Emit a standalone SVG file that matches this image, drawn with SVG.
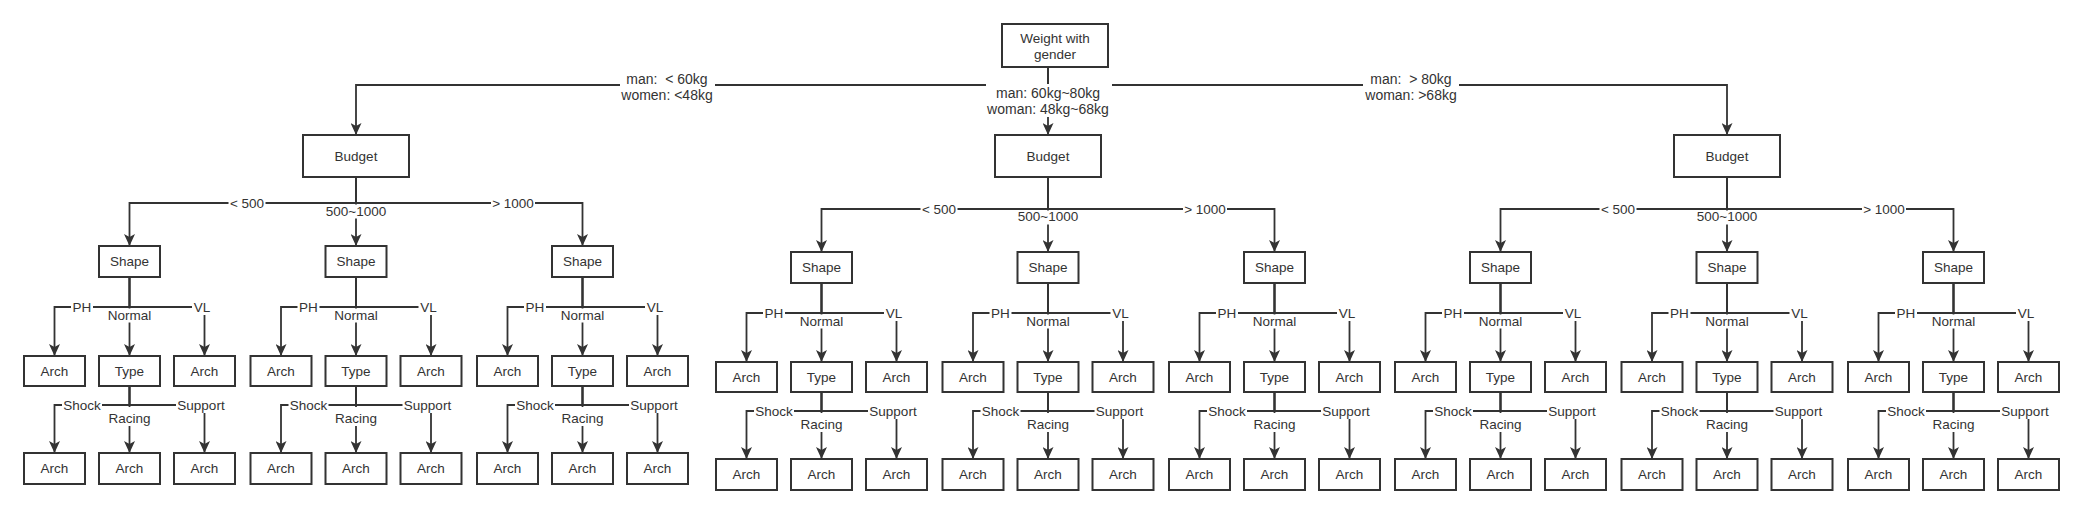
<svg xmlns="http://www.w3.org/2000/svg" width="2085" height="514" viewBox="0 0 2085 514">
<style>
.n rect{fill:#fff;stroke:#333;stroke-width:2}
text{font-family:"Liberation Sans",Arial,sans-serif;font-size:13.5px;fill:#333;text-anchor:middle;dominant-baseline:central}
.top text{font-size:14px}
#connectors path{fill:none;stroke:#333;stroke-width:1.8;marker-end:url(#arr)}
.lb rect{fill:#fff}
</style>
<defs>
<marker id="arr" viewBox="0 0 12 11" refX="12" refY="5.5" markerWidth="12" markerHeight="11" markerUnits="userSpaceOnUse" orient="auto"><path d="M0,0 L12,5.5 L0,11 L3,5.5 Z" fill="#333"/></marker>
</defs>
<rect width="2085" height="514" fill="#fff"/>
<g id="connectors">
<path d="M1048 67V85H356V135"/><path d="M1048 67V135"/><path d="M1048 67V85H1727V135"/>
<path d="M356 177V203H129.5V246"/><path d="M356 177V246"/><path d="M356 177V203H582.5V246"/>
<path d="M1048 177V209H821.5V252"/><path d="M1048 177V252"/><path d="M1048 177V209H1274.5V252"/>
<path d="M1727 177V209H1500.5V252"/><path d="M1727 177V252"/><path d="M1727 177V209H1953.5V252"/>
<path d="M129.5 277V307H54.5V356"/><path d="M129.5 277V356"/><path d="M129.5 277V307H204.5V356"/>
<path d="M129.5 386V405H54.5V453"/><path d="M129.5 386V453"/><path d="M129.5 386V405H204.5V453"/>
<path d="M356 277V307H281V356"/><path d="M356 277V356"/><path d="M356 277V307H431V356"/>
<path d="M356 386V405H281V453"/><path d="M356 386V453"/><path d="M356 386V405H431V453"/>
<path d="M582.5 277V307H507.5V356"/><path d="M582.5 277V356"/><path d="M582.5 277V307H657.5V356"/>
<path d="M582.5 386V405H507.5V453"/><path d="M582.5 386V453"/><path d="M582.5 386V405H657.5V453"/>
<path d="M821.5 283V313H746.5V362"/><path d="M821.5 283V362"/><path d="M821.5 283V313H896.5V362"/>
<path d="M821.5 392V411H746.5V459"/><path d="M821.5 392V459"/><path d="M821.5 392V411H896.5V459"/>
<path d="M1048 283V313H973V362"/><path d="M1048 283V362"/><path d="M1048 283V313H1123V362"/>
<path d="M1048 392V411H973V459"/><path d="M1048 392V459"/><path d="M1048 392V411H1123V459"/>
<path d="M1274.5 283V313H1199.5V362"/><path d="M1274.5 283V362"/><path d="M1274.5 283V313H1349.5V362"/>
<path d="M1274.5 392V411H1199.5V459"/><path d="M1274.5 392V459"/><path d="M1274.5 392V411H1349.5V459"/>
<path d="M1500.5 283V313H1425.5V362"/><path d="M1500.5 283V362"/><path d="M1500.5 283V313H1575.5V362"/>
<path d="M1500.5 392V411H1425.5V459"/><path d="M1500.5 392V459"/><path d="M1500.5 392V411H1575.5V459"/>
<path d="M1727 283V313H1652V362"/><path d="M1727 283V362"/><path d="M1727 283V313H1802V362"/>
<path d="M1727 392V411H1652V459"/><path d="M1727 392V459"/><path d="M1727 392V411H1802V459"/>
<path d="M1953.5 283V313H1878.5V362"/><path d="M1953.5 283V362"/><path d="M1953.5 283V313H2028.5V362"/>
<path d="M1953.5 392V411H1878.5V459"/><path d="M1953.5 392V459"/><path d="M1953.5 392V411H2028.5V459"/>
</g>
<g id="edge-labels" class="lb">
<g class="top">
<rect x="620" y="70" width="95" height="33"/><text x="667" y="79" xml:space="preserve">man:  &lt; 60kg</text><text x="667" y="95">women: &lt;48kg</text>
<rect x="986" y="84" width="126" height="33"/><text x="1048" y="93">man: 60kg~80kg</text><text x="1048" y="109">woman: 48kg~68kg</text>
<rect x="1363" y="70" width="96" height="33"/><text x="1411" y="79" xml:space="preserve">man:  &gt; 80kg</text><text x="1411" y="95">woman: &gt;68kg</text>
</g>
<rect x="228.5" y="195" width="37" height="16"/><text x="247" y="203">&lt; 500</text>
<rect x="491" y="195" width="44" height="16"/><text x="513" y="203">&gt; 1000</text>
<rect x="325" y="204.5" width="62" height="14"/><text x="356" y="211">500~1000</text>
<rect x="920.5" y="201" width="37" height="16"/><text x="939" y="209">&lt; 500</text>
<rect x="1183" y="201" width="44" height="16"/><text x="1205" y="209">&gt; 1000</text>
<rect x="1017" y="210.5" width="62" height="14"/><text x="1048" y="216">500~1000</text>
<rect x="1599.5" y="201" width="37" height="16"/><text x="1618" y="209">&lt; 500</text>
<rect x="1862" y="201" width="44" height="16"/><text x="1884" y="209">&gt; 1000</text>
<rect x="1696" y="210.5" width="62" height="14"/><text x="1727" y="216">500~1000</text>

<rect x="71" y="299" width="22" height="16"/><text x="82" y="307">PH</text>
<rect x="192" y="299" width="20" height="16"/><text x="202" y="307">VL</text>
<rect x="106.5" y="308.5" width="46" height="14"/><text x="129.5" y="315.5">Normal</text>
<rect x="62" y="397" width="40" height="16"/><text x="82" y="405">Shock</text>
<rect x="176" y="397" width="50" height="16"/><text x="201" y="405">Support</text>
<rect x="107.5" y="407" width="44" height="19"/><text x="129.5" y="418">Racing</text>

<rect x="297.5" y="299" width="22" height="16"/><text x="308.5" y="307">PH</text>
<rect x="418.5" y="299" width="20" height="16"/><text x="428.5" y="307">VL</text>
<rect x="333" y="308.5" width="46" height="14"/><text x="356" y="315.5">Normal</text>
<rect x="288.5" y="397" width="40" height="16"/><text x="308.5" y="405">Shock</text>
<rect x="402.5" y="397" width="50" height="16"/><text x="427.5" y="405">Support</text>
<rect x="334" y="407" width="44" height="19"/><text x="356" y="418">Racing</text>

<rect x="524" y="299" width="22" height="16"/><text x="535" y="307">PH</text>
<rect x="645" y="299" width="20" height="16"/><text x="655" y="307">VL</text>
<rect x="559.5" y="308.5" width="46" height="14"/><text x="582.5" y="315.5">Normal</text>
<rect x="515" y="397" width="40" height="16"/><text x="535" y="405">Shock</text>
<rect x="629" y="397" width="50" height="16"/><text x="654" y="405">Support</text>
<rect x="560.5" y="407" width="44" height="19"/><text x="582.5" y="418">Racing</text>

<rect x="763" y="305" width="22" height="16"/><text x="774" y="313">PH</text>
<rect x="884" y="305" width="20" height="16"/><text x="894" y="313">VL</text>
<rect x="798.5" y="314.5" width="46" height="14"/><text x="821.5" y="321.5">Normal</text>
<rect x="754" y="403" width="40" height="16"/><text x="774" y="411">Shock</text>
<rect x="868" y="403" width="50" height="16"/><text x="893" y="411">Support</text>
<rect x="799.5" y="413" width="44" height="19"/><text x="821.5" y="424">Racing</text>

<rect x="989.5" y="305" width="22" height="16"/><text x="1000.5" y="313">PH</text>
<rect x="1110.5" y="305" width="20" height="16"/><text x="1120.5" y="313">VL</text>
<rect x="1025" y="314.5" width="46" height="14"/><text x="1048" y="321.5">Normal</text>
<rect x="980.5" y="403" width="40" height="16"/><text x="1000.5" y="411">Shock</text>
<rect x="1094.5" y="403" width="50" height="16"/><text x="1119.5" y="411">Support</text>
<rect x="1026" y="413" width="44" height="19"/><text x="1048" y="424">Racing</text>

<rect x="1216" y="305" width="22" height="16"/><text x="1227" y="313">PH</text>
<rect x="1337" y="305" width="20" height="16"/><text x="1347" y="313">VL</text>
<rect x="1251.5" y="314.5" width="46" height="14"/><text x="1274.5" y="321.5">Normal</text>
<rect x="1207" y="403" width="40" height="16"/><text x="1227" y="411">Shock</text>
<rect x="1321" y="403" width="50" height="16"/><text x="1346" y="411">Support</text>
<rect x="1252.5" y="413" width="44" height="19"/><text x="1274.5" y="424">Racing</text>

<rect x="1442" y="305" width="22" height="16"/><text x="1453" y="313">PH</text>
<rect x="1563" y="305" width="20" height="16"/><text x="1573" y="313">VL</text>
<rect x="1477.5" y="314.5" width="46" height="14"/><text x="1500.5" y="321.5">Normal</text>
<rect x="1433" y="403" width="40" height="16"/><text x="1453" y="411">Shock</text>
<rect x="1547" y="403" width="50" height="16"/><text x="1572" y="411">Support</text>
<rect x="1478.5" y="413" width="44" height="19"/><text x="1500.5" y="424">Racing</text>

<rect x="1668.5" y="305" width="22" height="16"/><text x="1679.5" y="313">PH</text>
<rect x="1789.5" y="305" width="20" height="16"/><text x="1799.5" y="313">VL</text>
<rect x="1704" y="314.5" width="46" height="14"/><text x="1727" y="321.5">Normal</text>
<rect x="1659.5" y="403" width="40" height="16"/><text x="1679.5" y="411">Shock</text>
<rect x="1773.5" y="403" width="50" height="16"/><text x="1798.5" y="411">Support</text>
<rect x="1705" y="413" width="44" height="19"/><text x="1727" y="424">Racing</text>

<rect x="1895" y="305" width="22" height="16"/><text x="1906" y="313">PH</text>
<rect x="2016" y="305" width="20" height="16"/><text x="2026" y="313">VL</text>
<rect x="1930.5" y="314.5" width="46" height="14"/><text x="1953.5" y="321.5">Normal</text>
<rect x="1886" y="403" width="40" height="16"/><text x="1906" y="411">Shock</text>
<rect x="2000" y="403" width="50" height="16"/><text x="2025" y="411">Support</text>
<rect x="1931.5" y="413" width="44" height="19"/><text x="1953.5" y="424">Racing</text>
</g>

<g id="root" class="n"><rect x="1002" y="24" width="106" height="43"/><text x="1055" y="38">Weight with</text><text x="1055" y="54">gender</text></g>

<g id="budget-L" class="n"><rect x="303" y="135" width="106" height="42"/><text x="356" y="156">Budget</text></g>
<g id="budget-M" class="n"><rect x="995" y="135" width="106" height="42"/><text x="1048" y="156">Budget</text></g>
<g id="budget-R" class="n"><rect x="1674" y="135" width="106" height="42"/><text x="1727" y="156">Budget</text></g>

<g id="shape-L1" class="n"><rect x="99" y="246" width="61" height="31"/><text x="129.5" y="261.5">Shape</text></g>
<g id="arch-L1-ph" class="n"><rect x="24" y="356" width="61" height="30"/><text x="54.5" y="371">Arch</text></g>
<g id="type-L1" class="n"><rect x="99" y="356" width="61" height="30"/><text x="129.5" y="371">Type</text></g>
<g id="arch-L1-vl" class="n"><rect x="174" y="356" width="61" height="30"/><text x="204.5" y="371">Arch</text></g>
<g id="arch-L1-shock" class="n"><rect x="24" y="453" width="61" height="31"/><text x="54.5" y="468.5">Arch</text></g>
<g id="arch-L1-racing" class="n"><rect x="99" y="453" width="61" height="31"/><text x="129.5" y="468.5">Arch</text></g>
<g id="arch-L1-support" class="n"><rect x="174" y="453" width="61" height="31"/><text x="204.5" y="468.5">Arch</text></g>

<g id="shape-L2" class="n"><rect x="325.5" y="246" width="61" height="31"/><text x="356" y="261.5">Shape</text></g>
<g id="arch-L2-ph" class="n"><rect x="250.5" y="356" width="61" height="30"/><text x="281" y="371">Arch</text></g>
<g id="type-L2" class="n"><rect x="325.5" y="356" width="61" height="30"/><text x="356" y="371">Type</text></g>
<g id="arch-L2-vl" class="n"><rect x="400.5" y="356" width="61" height="30"/><text x="431" y="371">Arch</text></g>
<g id="arch-L2-shock" class="n"><rect x="250.5" y="453" width="61" height="31"/><text x="281" y="468.5">Arch</text></g>
<g id="arch-L2-racing" class="n"><rect x="325.5" y="453" width="61" height="31"/><text x="356" y="468.5">Arch</text></g>
<g id="arch-L2-support" class="n"><rect x="400.5" y="453" width="61" height="31"/><text x="431" y="468.5">Arch</text></g>

<g id="shape-L3" class="n"><rect x="552" y="246" width="61" height="31"/><text x="582.5" y="261.5">Shape</text></g>
<g id="arch-L3-ph" class="n"><rect x="477" y="356" width="61" height="30"/><text x="507.5" y="371">Arch</text></g>
<g id="type-L3" class="n"><rect x="552" y="356" width="61" height="30"/><text x="582.5" y="371">Type</text></g>
<g id="arch-L3-vl" class="n"><rect x="627" y="356" width="61" height="30"/><text x="657.5" y="371">Arch</text></g>
<g id="arch-L3-shock" class="n"><rect x="477" y="453" width="61" height="31"/><text x="507.5" y="468.5">Arch</text></g>
<g id="arch-L3-racing" class="n"><rect x="552" y="453" width="61" height="31"/><text x="582.5" y="468.5">Arch</text></g>
<g id="arch-L3-support" class="n"><rect x="627" y="453" width="61" height="31"/><text x="657.5" y="468.5">Arch</text></g>

<g id="shape-M1" class="n"><rect x="791" y="252" width="61" height="31"/><text x="821.5" y="267.5">Shape</text></g>
<g id="arch-M1-ph" class="n"><rect x="716" y="362" width="61" height="30"/><text x="746.5" y="377">Arch</text></g>
<g id="type-M1" class="n"><rect x="791" y="362" width="61" height="30"/><text x="821.5" y="377">Type</text></g>
<g id="arch-M1-vl" class="n"><rect x="866" y="362" width="61" height="30"/><text x="896.5" y="377">Arch</text></g>
<g id="arch-M1-shock" class="n"><rect x="716" y="459" width="61" height="31"/><text x="746.5" y="474.5">Arch</text></g>
<g id="arch-M1-racing" class="n"><rect x="791" y="459" width="61" height="31"/><text x="821.5" y="474.5">Arch</text></g>
<g id="arch-M1-support" class="n"><rect x="866" y="459" width="61" height="31"/><text x="896.5" y="474.5">Arch</text></g>

<g id="shape-M2" class="n"><rect x="1017.5" y="252" width="61" height="31"/><text x="1048" y="267.5">Shape</text></g>
<g id="arch-M2-ph" class="n"><rect x="942.5" y="362" width="61" height="30"/><text x="973" y="377">Arch</text></g>
<g id="type-M2" class="n"><rect x="1017.5" y="362" width="61" height="30"/><text x="1048" y="377">Type</text></g>
<g id="arch-M2-vl" class="n"><rect x="1092.5" y="362" width="61" height="30"/><text x="1123" y="377">Arch</text></g>
<g id="arch-M2-shock" class="n"><rect x="942.5" y="459" width="61" height="31"/><text x="973" y="474.5">Arch</text></g>
<g id="arch-M2-racing" class="n"><rect x="1017.5" y="459" width="61" height="31"/><text x="1048" y="474.5">Arch</text></g>
<g id="arch-M2-support" class="n"><rect x="1092.5" y="459" width="61" height="31"/><text x="1123" y="474.5">Arch</text></g>

<g id="shape-M3" class="n"><rect x="1244" y="252" width="61" height="31"/><text x="1274.5" y="267.5">Shape</text></g>
<g id="arch-M3-ph" class="n"><rect x="1169" y="362" width="61" height="30"/><text x="1199.5" y="377">Arch</text></g>
<g id="type-M3" class="n"><rect x="1244" y="362" width="61" height="30"/><text x="1274.5" y="377">Type</text></g>
<g id="arch-M3-vl" class="n"><rect x="1319" y="362" width="61" height="30"/><text x="1349.5" y="377">Arch</text></g>
<g id="arch-M3-shock" class="n"><rect x="1169" y="459" width="61" height="31"/><text x="1199.5" y="474.5">Arch</text></g>
<g id="arch-M3-racing" class="n"><rect x="1244" y="459" width="61" height="31"/><text x="1274.5" y="474.5">Arch</text></g>
<g id="arch-M3-support" class="n"><rect x="1319" y="459" width="61" height="31"/><text x="1349.5" y="474.5">Arch</text></g>

<g id="shape-R1" class="n"><rect x="1470" y="252" width="61" height="31"/><text x="1500.5" y="267.5">Shape</text></g>
<g id="arch-R1-ph" class="n"><rect x="1395" y="362" width="61" height="30"/><text x="1425.5" y="377">Arch</text></g>
<g id="type-R1" class="n"><rect x="1470" y="362" width="61" height="30"/><text x="1500.5" y="377">Type</text></g>
<g id="arch-R1-vl" class="n"><rect x="1545" y="362" width="61" height="30"/><text x="1575.5" y="377">Arch</text></g>
<g id="arch-R1-shock" class="n"><rect x="1395" y="459" width="61" height="31"/><text x="1425.5" y="474.5">Arch</text></g>
<g id="arch-R1-racing" class="n"><rect x="1470" y="459" width="61" height="31"/><text x="1500.5" y="474.5">Arch</text></g>
<g id="arch-R1-support" class="n"><rect x="1545" y="459" width="61" height="31"/><text x="1575.5" y="474.5">Arch</text></g>

<g id="shape-R2" class="n"><rect x="1696.5" y="252" width="61" height="31"/><text x="1727" y="267.5">Shape</text></g>
<g id="arch-R2-ph" class="n"><rect x="1621.5" y="362" width="61" height="30"/><text x="1652" y="377">Arch</text></g>
<g id="type-R2" class="n"><rect x="1696.5" y="362" width="61" height="30"/><text x="1727" y="377">Type</text></g>
<g id="arch-R2-vl" class="n"><rect x="1771.5" y="362" width="61" height="30"/><text x="1802" y="377">Arch</text></g>
<g id="arch-R2-shock" class="n"><rect x="1621.5" y="459" width="61" height="31"/><text x="1652" y="474.5">Arch</text></g>
<g id="arch-R2-racing" class="n"><rect x="1696.5" y="459" width="61" height="31"/><text x="1727" y="474.5">Arch</text></g>
<g id="arch-R2-support" class="n"><rect x="1771.5" y="459" width="61" height="31"/><text x="1802" y="474.5">Arch</text></g>

<g id="shape-R3" class="n"><rect x="1923" y="252" width="61" height="31"/><text x="1953.5" y="267.5">Shape</text></g>
<g id="arch-R3-ph" class="n"><rect x="1848" y="362" width="61" height="30"/><text x="1878.5" y="377">Arch</text></g>
<g id="type-R3" class="n"><rect x="1923" y="362" width="61" height="30"/><text x="1953.5" y="377">Type</text></g>
<g id="arch-R3-vl" class="n"><rect x="1998" y="362" width="61" height="30"/><text x="2028.5" y="377">Arch</text></g>
<g id="arch-R3-shock" class="n"><rect x="1848" y="459" width="61" height="31"/><text x="1878.5" y="474.5">Arch</text></g>
<g id="arch-R3-racing" class="n"><rect x="1923" y="459" width="61" height="31"/><text x="1953.5" y="474.5">Arch</text></g>
<g id="arch-R3-support" class="n"><rect x="1998" y="459" width="61" height="31"/><text x="2028.5" y="474.5">Arch</text></g>
</svg>
